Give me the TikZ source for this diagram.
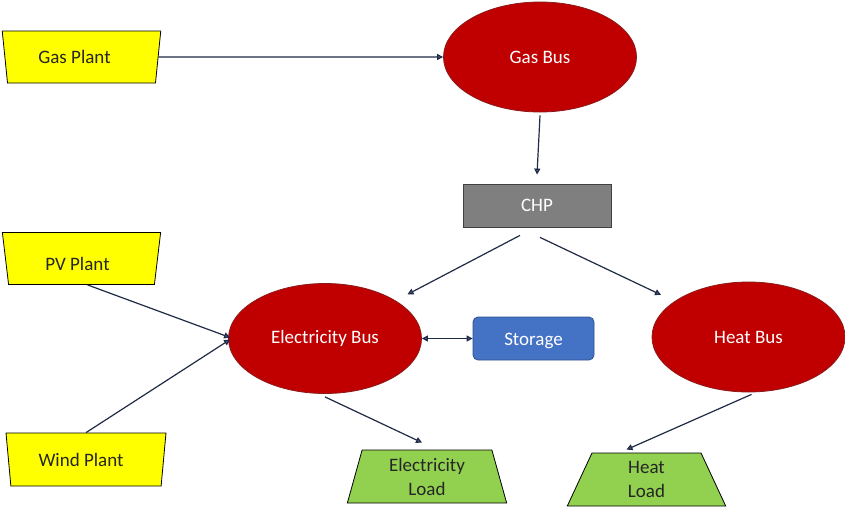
\documentclass[tikz,border=0pt]{standalone}
\usepackage{fontspec}
\setmainfont{Carlito}
\usetikzlibrary{shapes.geometric,arrows.meta,calc}
\definecolor{busred}{HTML}{C00000}
\definecolor{busedge}{HTML}{8B1A1A}
\definecolor{plantyellow}{HTML}{FFFF00}
\definecolor{loadgreen}{HTML}{92D050}
\definecolor{chpgray}{HTML}{7F7F7F}
\definecolor{storeblue}{HTML}{4472C4}
\definecolor{storeedge}{HTML}{2F528F}
\definecolor{linecol}{HTML}{1F2A44}
\definecolor{tipcol}{HTML}{4A5E8C}
\tikzset{
  plant/.style={trapezium, trapezium stretches=true, shape border rotate=180,
    trapezium left angle=77, trapezium right angle=77,
    minimum width=159pt, minimum height=52pt, inner sep=0pt,
    fill=plantyellow, draw=black, line width=0.8pt, text=black!85, font=\fontsize{19}{22}\selectfont},
  load/.style={trapezium, trapezium stretches=true,
    trapezium left angle=77, trapezium right angle=77,
    minimum width=160pt, minimum height=53pt, inner sep=0pt, align=center,
    fill=loadgreen, draw=black, line width=0.8pt, text=black!85, font=\fontsize{19}{24}\selectfont},
  bus/.style={ellipse, minimum width=193pt, minimum height=110pt, inner sep=0pt,
    fill=busred, draw=busedge, line width=0.8pt, text=white, font=\fontsize{19}{22}\selectfont},
  chpbox/.style={rectangle, minimum width=148pt, minimum height=43pt, inner sep=0pt,
    fill=chpgray, draw=black!75, line width=0.8pt, text=white, font=\fontsize{19}{22}\selectfont},
  storebox/.style={rectangle, rounded corners=5pt, minimum width=121pt, minimum height=43pt, inner sep=0pt,
    fill=storeblue, draw=storeedge, line width=0.8pt, text=white, font=\fontsize{19}{22}\selectfont},
  conn/.style={draw=linecol, line width=1.2pt, -{Triangle[width=6pt,length=6pt,fill=tipcol]}},
  conn2/.style={draw=linecol, line width=1.2pt, {Triangle[width=6pt,length=6pt,fill=tipcol]}-{Triangle[width=6pt,length=6pt,fill=tipcol]}}
}
\begin{document}
\begin{tikzpicture}[x=1pt,y=-1pt]
\useasboundingbox (0,0) rectangle (845,517);
\fill[white] (0,0) rectangle (845,517);
\node[plant] (gasplant) at (81.5,57) {Gas Plant\hspace*{14pt}};
\node[plant] (pvplant) at (81.5,258.5) {\raisebox{-5pt}[\height][\depth]{PV Plant}\hspace*{8pt}};
\node[plant, minimum width=160pt, minimum height=53pt] (windplant) at (86,459.5) {Wind Plant\hspace*{10pt}};
\node[bus] (gasbus) at (540,57) {Gas Bus};
\node[bus] (elecbus) at (325,338.5) {Electricity Bus};
\node[bus] (heatbus) at (748.5,337) {Heat Bus};
\node[chpbox] (chp) at (537,205.5) {CHP};
\node[storebox] (storage) at (533.5,338.5) {\raisebox{-2pt}[\height][\depth]{Storage}};
\node[load] (elecload) at (427,476.5) {Electricity\\Load};
\node[load, minimum width=159pt] (heatload) at (646.5,479.5) {Heat\\Load};

\draw[conn] (gasplant.east) -- (gasbus.west);
\draw[conn] ($(gasbus.south)+(0,3)$) -- ($(chp.north)+(0,-9)$);
\draw[conn] ($(chp.south)+(-17,8)$) -- ($(elecbus.north east)+(14,-5)$);
\draw[conn] ($(chp.south)+(3,10)$) -- ($(heatbus.north west)+(-19,-3)$);
\draw[conn] ($(pvplant.south)+(6,0)$) -- ($(elecbus.west)+(2,-1)$);
\draw[conn] ($(windplant.north)+(0,0)$) -- ($(elecbus.west)+(2,1)$);
\draw[conn2] ($(elecbus.east)+(0,0)$) -- (storage.west);
\draw[conn] ($(elecbus.south)+(0,3)$) -- ($(elecload.north)+(-5,-7)$);
\draw[conn] ($(heatbus.south)+(3,2)$) -- ($(heatload.north)+(-20,-3)$);
\end{tikzpicture}
\end{document}
